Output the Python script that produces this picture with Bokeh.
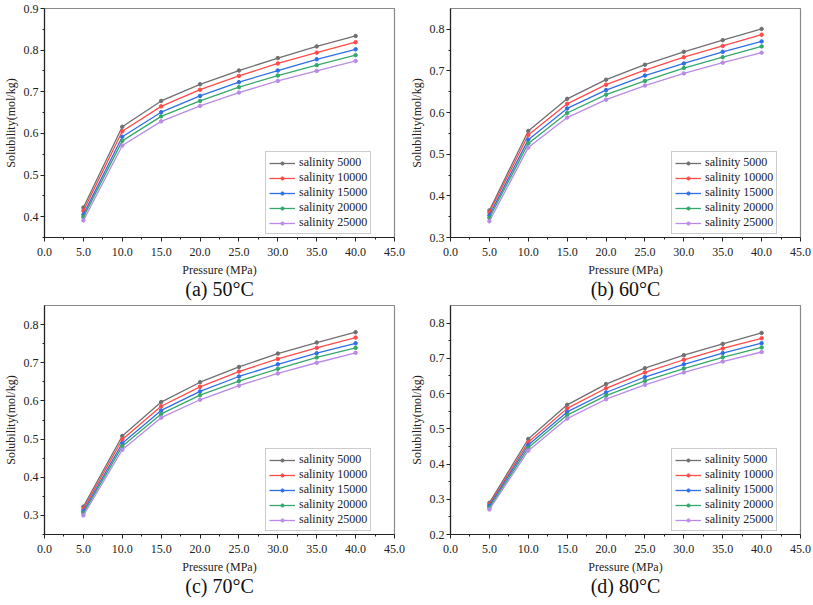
from bokeh.plotting import figure
from bokeh.layouts import gridplot
from bokeh.models import FixedTicker, NumeralTickFormatter, Range1d, LinearAxis, Legend
from bokeh.embed import file_html
from bokeh.resources import INLINE

pressure = [5, 10, 15, 20, 25, 30, 35, 40]
salinity_labels = ["salinity 5000", "salinity 10000", "salinity 15000",
                   "salinity 20000", "salinity 25000"]
colors = ["#707070", "#ff4a4a", "#2f6fe6", "#34a86a", "#b98ae8"]

sol_50c = [
    [0.422, 0.616, 0.678, 0.718, 0.751, 0.781, 0.809, 0.834],
    [0.414, 0.605, 0.665, 0.705, 0.738, 0.768, 0.794, 0.819],
    [0.405, 0.592, 0.651, 0.690, 0.723, 0.751, 0.778, 0.802],
    [0.399, 0.582, 0.641, 0.678, 0.711, 0.739, 0.764, 0.788],
    [0.391, 0.571, 0.629, 0.666, 0.698, 0.726, 0.750, 0.774],
]
sol_60c = [
    [0.365, 0.556, 0.633, 0.679, 0.715, 0.746, 0.774, 0.801],
    [0.360, 0.546, 0.621, 0.667, 0.702, 0.733, 0.760, 0.787],
    [0.353, 0.535, 0.610, 0.654, 0.689, 0.718, 0.746, 0.771],
    [0.347, 0.526, 0.599, 0.643, 0.676, 0.707, 0.733, 0.759],
    [0.339, 0.516, 0.588, 0.631, 0.665, 0.694, 0.720, 0.744],
]
sol_70c = [
    [0.323, 0.508, 0.597, 0.649, 0.689, 0.724, 0.753, 0.780],
    [0.317, 0.499, 0.586, 0.637, 0.677, 0.710, 0.739, 0.766],
    [0.311, 0.489, 0.575, 0.625, 0.664, 0.696, 0.725, 0.751],
    [0.306, 0.481, 0.566, 0.615, 0.652, 0.684, 0.714, 0.739],
    [0.300, 0.472, 0.556, 0.603, 0.640, 0.672, 0.700, 0.726],
]
sol_80c = [
    [0.290, 0.471, 0.568, 0.627, 0.672, 0.709, 0.741, 0.772],
    [0.285, 0.462, 0.558, 0.615, 0.660, 0.696, 0.728, 0.757],
    [0.281, 0.454, 0.548, 0.603, 0.647, 0.683, 0.715, 0.743],
    [0.276, 0.446, 0.539, 0.594, 0.636, 0.671, 0.703, 0.731],
    [0.271, 0.438, 0.529, 0.584, 0.625, 0.660, 0.691, 0.718],
]

x_ticks = [0, 5, 10, 15, 20, 25, 30, 35, 40, 45]
x_minor = [2.5, 7.5, 12.5, 17.5, 22.5, 27.5, 32.5, 37.5, 42.5]

panels = [
    ("(a) 50°C", sol_50c, (0.35, 0.9), [0.4, 0.5, 0.6, 0.7, 0.8, 0.9]),
    ("(b) 60°C", sol_60c, (0.3, 0.85), [0.3, 0.4, 0.5, 0.6, 0.7, 0.8]),
    ("(c) 70°C", sol_70c, (0.25, 0.85), [0.3, 0.4, 0.5, 0.6, 0.7, 0.8]),
    ("(d) 80°C", sol_80c, (0.2, 0.85), [0.2, 0.3, 0.4, 0.5, 0.6, 0.7, 0.8]),
]

FONT = "Liberation Serif"
FW, FH = 350, 229


def make_panel(caption, data, yr, yticks, mbr, mbt):
    p = figure(frame_width=FW, frame_height=FH, output_backend="svg",
               toolbar_location=None,
               x_range=Range1d(0, 45), y_range=Range1d(*yr),
               min_border_left=0, min_border_right=mbr, min_border_top=mbt,
               min_border_bottom=0)
    p.grid.visible = False
    p.outline_line_color = "#8a8a8a"
    p.outline_line_width = 1.2
    p.background_fill_color = "white"

    yminor = [round(t - 0.05, 2) for t in yticks]
    p.xaxis.ticker = FixedTicker(ticks=x_ticks, minor_ticks=x_minor)
    p.yaxis.ticker = FixedTicker(ticks=yticks, minor_ticks=yminor)
    p.xaxis.formatter = NumeralTickFormatter(format="0.0")
    p.yaxis.formatter = NumeralTickFormatter(format="0.0")
    for ax in (p.xaxis[0], p.yaxis[0]):
        ax.axis_line_color = "#222222"
        ax.axis_line_width = 1.2
        ax.major_tick_line_color = "#222222"
        ax.minor_tick_line_color = "#222222"
        ax.major_tick_in = 0
        ax.major_tick_out = 4
        ax.minor_tick_in = 0
        ax.minor_tick_out = 2
        ax.major_label_text_font = FONT
        ax.major_label_text_font_size = "12px"
        ax.major_label_text_color = "#222222"
        ax.axis_label_text_font = FONT
        ax.axis_label_text_font_size = "12px"
        ax.axis_label_text_font_style = "normal"
        ax.axis_label_text_color = "#222222"
    p.xaxis.major_label_standoff = 6
    p.xaxis.axis_label_standoff = 4
    p.yaxis.major_label_standoff = 2
    p.yaxis.axis_label_standoff = 3
    p.xaxis.axis_label = "Pressure (MPa)"
    p.yaxis.axis_label = "Solubility(mol/kg)"

    # caption drawn as the label of a bare extra axis below the x axis
    cap_axis = LinearAxis(axis_label=caption, ticker=FixedTicker(ticks=[]))
    cap_axis.axis_line_color = None
    cap_axis.major_tick_out = 0
    cap_axis.major_tick_in = 0
    cap_axis.minor_tick_out = 0
    cap_axis.minor_tick_in = 0
    cap_axis.major_label_standoff = 0
    cap_axis.axis_label_standoff = -2
    cap_axis.axis_label_text_font = FONT
    cap_axis.axis_label_text_font_size = "20px"
    cap_axis.axis_label_text_font_style = "normal"
    cap_axis.axis_label_text_color = "#111111"
    p.add_layout(cap_axis, "below")

    items = []
    for series, label, c in zip(data, salinity_labels, colors):
        r1 = p.line(pressure, series, line_color=c, line_width=1.3)
        r2 = p.scatter(pressure, series, marker="circle", size=3.5,
                       fill_color=c, line_color=c)
        items.append((label, [r1, r2]))
    leg = Legend(items=items)
    leg.label_text_font = FONT
    leg.label_text_font_size = "12px"
    leg.label_text_color = "#222222"
    leg.glyph_width = 26
    leg.glyph_height = 8
    leg.label_height = 15
    leg.label_standoff = 4
    leg.spacing = 0
    leg.padding = 3
    leg.margin = 0
    leg.border_line_color = "#999999"
    leg.border_line_width = 1
    leg.background_fill_alpha = 1.0
    leg.location = (FW - 19 - 110, 3)
    p.add_layout(leg, "center")
    return p


figs = []
for i, (cap, data, yr, yt) in enumerate(panels):
    mbr = 12 if i % 2 == 0 else 11
    mbt = 8 if i < 2 else 3
    figs.append(make_panel(cap, data, yr, yt, mbr, mbt))

grid = gridplot([[figs[0], figs[1]], [figs[2], figs[3]]], toolbar_location=None)

open("out.html", "w").write(file_html(grid, INLINE))
